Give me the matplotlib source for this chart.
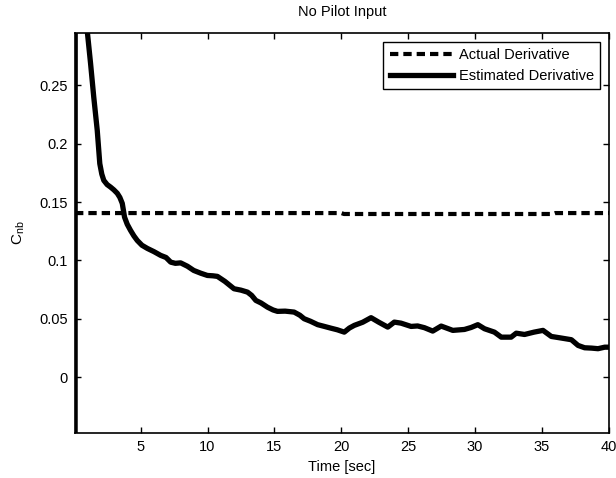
import matplotlib
matplotlib.use("Agg")
import matplotlib.pyplot as plt

plt.rcParams['font.family'] = ['Liberation Sans', 'DejaVu Sans']
plt.rcParams['mathtext.fontset'] = 'custom'
plt.rcParams['mathtext.rm'] = 'Liberation Sans'
plt.rcParams['mathtext.it'] = 'Liberation Sans'

# actual derivative (nearly constant)
t_actual = [0.1, 20.0, 20.2, 35.8, 36.0, 40.0]
cnb_actual = [0.1406, 0.1406, 0.1398, 0.1398, 0.1406, 0.1406]

# estimated derivative
t_est = [0.1, 0.12, 0.9, 1.01, 1.26, 1.50, 1.76, 1.95, 2.1, 2.25, 2.5, 2.75,
         3.0, 3.26, 3.45, 3.63, 3.80, 4.0, 4.25, 4.5, 4.75, 5.1, 5.50, 6.0,
         6.50, 6.9, 7.25, 7.6, 7.99, 8.5, 8.97, 9.5, 9.99, 10.4, 10.74, 11.3,
         11.98, 12.5, 12.99, 13.3, 13.61, 14.0, 14.48, 14.9, 15.23, 15.8,
         16.47, 16.9, 17.22, 17.7, 18.23, 18.7, 19.22, 19.7, 20.22, 20.6,
         20.97, 21.6, 22.22, 22.8, 23.47, 23.96, 24.46, 25.21, 25.7, 26.21,
         26.83, 27.46, 28.33, 29.20, 29.7, 30.20, 30.70, 31.44, 31.95, 32.69,
         33.07, 33.69, 34.4, 35.07, 35.69, 36.4, 37.19, 37.69, 38.18, 38.7,
         39.18, 39.68, 40.0]
cnb_est = [-0.3, 0.6, 0.32, 0.297, 0.269, 0.240, 0.2115, 0.183, 0.174, 0.1686,
           0.1650, 0.1629, 0.1605, 0.1575, 0.1540, 0.1489, 0.1371, 0.1310,
           0.1257, 0.1210, 0.1171, 0.1130, 0.1103, 0.1075, 0.1043, 0.1025,
           0.0985, 0.0975, 0.0979, 0.0950, 0.0914, 0.0890, 0.0871, 0.0868,
           0.0863, 0.0820, 0.0757, 0.0745, 0.0728, 0.0700, 0.0657, 0.0635,
           0.0599, 0.0575, 0.0563, 0.0565, 0.0557, 0.0530, 0.0500, 0.0478,
           0.0449, 0.0435, 0.0419, 0.0405, 0.0385, 0.0420, 0.0443, 0.0470,
           0.0509, 0.0470, 0.0428, 0.0471, 0.0462, 0.0434, 0.0438, 0.0423,
           0.0394, 0.0437, 0.0400, 0.0408, 0.0425, 0.0449, 0.0414, 0.0385,
           0.0342, 0.0342, 0.0376, 0.0365, 0.0385, 0.0400, 0.0348, 0.0335,
           0.0320, 0.0271, 0.0251, 0.0248, 0.0243, 0.0256, 0.0256]

xticks = [5, 10, 15, 20, 25, 30, 35, 40]
yticks = [0, 0.05, 0.1, 0.15, 0.2, 0.25]
ytick_labels = ['0', '0.05', '0.1', '0.15', '0.2', '0.25']

fig = plt.figure(figsize=(6.16, 4.78), dpi=100)
ax = fig.add_axes([0.1218, 0.0941, 0.8668, 0.8369])

ax.plot(t_actual, cnb_actual, color='black', lw=3, dashes=(2, 1.2),
        label='Actual Derivative')
ax.plot(t_est, cnb_est, color='black', lw=3.8, label='Estimated Derivative')

ax.set_xlim(0.1, 40)
ax.set_ylim(-0.048, 0.295)
ax.set_xticks(xticks)
ax.set_xticklabels([str(v) for v in xticks])
ax.set_yticks(yticks)
ax.set_yticklabels(ytick_labels)
ax.tick_params(direction='in', length=4, width=1, labelsize=10.5,
               top=True, right=True, pad=5)
for s in ax.spines.values():
    s.set_linewidth(1.2)

ax.set_title('No Pilot Input', fontsize=10.5, pad=12)
ax.set_xlabel('Time [sec]', fontsize=10.5, labelpad=4)
ax.set_ylabel(r'C$_{\mathrm{nb}}$', fontsize=11, labelpad=9)

leg = ax.legend(loc='upper right', fontsize=10.5, fancybox=False,
                edgecolor='black', framealpha=1, handlelength=4.3,
                handletextpad=0.4, borderaxespad=0.6, borderpad=0.45,
                labelspacing=0.45)
leg.get_frame().set_linewidth(1)

fig.savefig('out.png', dpi=100)
